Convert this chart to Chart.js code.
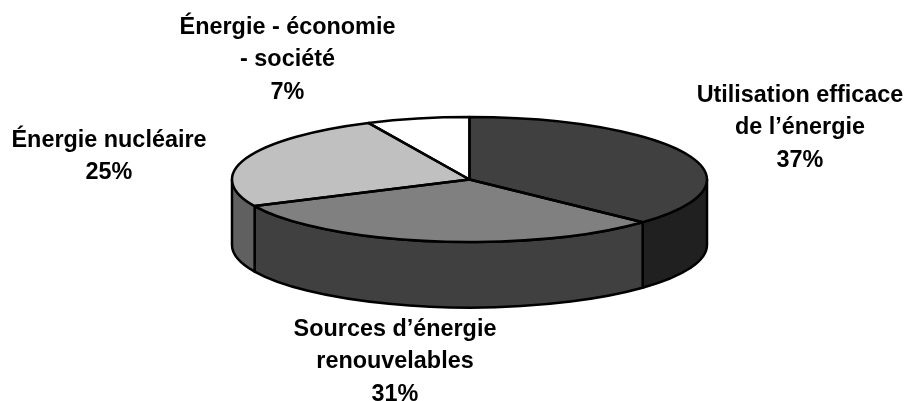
<!DOCTYPE html>
<html>
<head>
<meta charset="utf-8">
<style>
  html, body { margin: 0; padding: 0; background: #fff; }
  #wrap { width: 907px; height: 401px; }
</style>
<script src="https://cdn.jsdelivr.net/npm/chart.js@4/dist/chart.umd.min.js"></script>
</head>
<body>
<div id="wrap"><canvas id="chart-pie" width="907" height="401"></canvas></div>
<script>
const categories = [
  ['Utilisation efficace', 'de l’énergie'],
  ['Sources d’énergie', 'renouvelables'],
  ['Énergie nucléaire'],
  ['Énergie - économie', '- société']
];
const shares = [37, 31, 25, 7];

const topColors = ['#404040', '#808080', '#c0c0c0', '#ffffff'];
const sideColors = ['#202020', '#404040', '#606060', '#808080'];

// where the flattened pie sits on the page
const pie = { cx: 469.5, cy: 179.5, rx: 237.5, ry: 62.5, depth: 65.5 };
// centre x / first baseline of each label
const labelPos = [[800, 102], [395, 336], [109, 146.5], [287.5, 34]];
const labelFont = 'bold 23.4px "Liberation Sans", Arial, sans-serif';
const lineStep = 32.4;
const outline = 2.5;

function sidePath(ctx, a0, a1) {
  ctx.beginPath();
  ctx.ellipse(pie.cx, pie.cy, pie.rx, pie.ry, 0, a0, a1);
  ctx.ellipse(pie.cx, pie.cy + pie.depth, pie.rx, pie.ry, 0, a1, a0, true);
  ctx.closePath();
}

const flatPie = {
  id: 'flatPie',
  beforeDatasetsDraw(chart) {
    const ctx = chart.ctx;
    const arcs = chart.getDatasetMeta(0).data;

    // side wall, only the part facing the viewer
    ctx.save();
    ctx.lineWidth = outline;
    ctx.strokeStyle = '#000';
    ctx.lineJoin = 'round';
    arcs.forEach((arc, i) => {
      const a0 = Math.max(arc.startAngle, 0);
      const a1 = Math.min(arc.endAngle, Math.PI);
      if (a1 <= a0) return;
      sidePath(ctx, a0, a1);
      ctx.fillStyle = sideColors[i];
      ctx.fill();
      ctx.stroke();
    });
    ctx.restore();

    // squash the round pie the library draws
    const first = arcs[0];
    ctx.save();
    ctx.translate(pie.cx, pie.cy);
    ctx.scale(pie.rx / first.outerRadius, pie.ry / first.outerRadius);
    ctx.translate(-first.x, -first.y);
  },
  afterDatasetsDraw(chart) {
    const ctx = chart.ctx;
    ctx.restore();

    // outlines go here so the line width is not squashed too
    ctx.save();
    ctx.lineWidth = outline;
    ctx.strokeStyle = '#000';
    ctx.lineJoin = 'round';
    chart.getDatasetMeta(0).data.forEach(arc => {
      ctx.beginPath();
      ctx.moveTo(pie.cx, pie.cy);
      ctx.ellipse(pie.cx, pie.cy, pie.rx, pie.ry, 0, arc.startAngle, arc.endAngle);
      ctx.closePath();
      ctx.stroke();
    });
    ctx.restore();
  },
  afterDraw(chart) {
    const ctx = chart.ctx;
    ctx.save();
    ctx.font = labelFont;
    ctx.fillStyle = '#000';
    ctx.textAlign = 'center';
    ctx.textBaseline = 'alphabetic';
    chart.data.labels.forEach((lines, i) => {
      const all = lines.concat(chart.data.datasets[0].data[i] + '%');
      all.forEach((line, n) => {
        ctx.fillText(line, labelPos[i][0], labelPos[i][1] + n * lineStep);
      });
    });
    ctx.restore();
  }
};

new Chart(document.getElementById('chart-pie'), {
  type: 'pie',
  data: {
    labels: categories,
    datasets: [{
      data: shares,
      backgroundColor: topColors,
      borderWidth: 0,
      clip: false
    }]
  },
  options: {
    responsive: false,
    animation: false,
    plugins: {
      legend: { display: false },
      tooltip: { enabled: false }
    }
  },
  plugins: [flatPie]
});
</script>
</body>
</html>
